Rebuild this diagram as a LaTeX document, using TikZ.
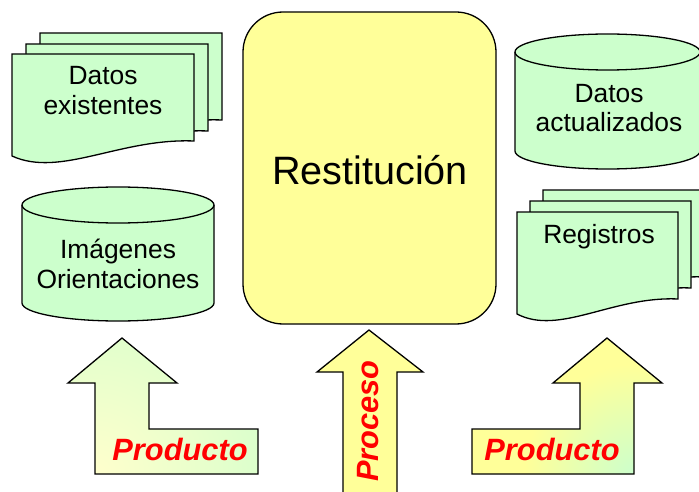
\documentclass[tikz,border=0pt]{standalone}
\usepackage{fontspec}
\setmainfont{Liberation Sans}
\definecolor{docgreen}{HTML}{CCFFCC}
\definecolor{boxyellow}{HTML}{FFFF99}
\definecolor{paleyellow}{HTML}{FFFFCC}
\definecolor{prodred}{HTML}{FF0000}
\tikzset{
  outline/.style={draw=black, line width=1.3pt, line join=miter},
  docpage/.style={outline, fill=docgreen},
  cylbody/.style={outline, fill=docgreen},
  lbl/.style={font=\fontsize{26.4}{30}\selectfont, anchor=base, inner sep=0pt},
  biglbl/.style={font=\fontsize{39.6}{44}\selectfont, anchor=base, inner sep=0pt},
  arrowlbl/.style={font=\fontsize{30.8}{34}\selectfont\bfseries\itshape, text=prodred, inner sep=0pt},
}
% document page: left x, top y (positive down), width
\newcommand\mydocpage[3]{%
  \draw[docpage] ({#1},{-(#2)}) -- ({#1+#3},{-(#2)}) -- ({#1+#3},{-(#2+87)})
    .. controls ({#1+0.593*#3},{-(#2+84)}) and ({#1+0.264*#3},{-(#2+124)}) .. ({#1},{-(#2+102)}) -- cycle;}
% cylinder: left x, right x, top-centre y, bottom-centre y, y radius
\newcommand\mycylinder[5]{%
  \draw[cylbody] ({#1},{-(#3)}) -- ({#1},{-(#4)})
    arc[start angle=180, end angle=360, x radius={(#2-#1)/2}, y radius=#5]
    -- ({#2},{-(#3)})
    arc[start angle=0, end angle=180, x radius={(#2-#1)/2}, y radius=#5] -- cycle;
  \draw[outline] ({#1},{-(#3)}) arc[start angle=180, end angle=360, x radius={(#2-#1)/2}, y radius=#5];}
\begin{document}
\begin{tikzpicture}[x=1pt,y=1pt]
\useasboundingbox (0,0) rectangle (699,-492);

% Datos existentes (stacked documents)
\mydocpage{40}{33}{182}
\mydocpage{26}{44}{182}
\mydocpage{12}{54}{182}
\node[lbl] (de1) at (103,-85) {Datos};
\node[lbl] (de2) at (103,-115) {existentes};

% Imagenes Orientaciones (cylinder)
\mycylinder{22}{214}{205}{303}{18}
\node[lbl] (io1) at (118,-258) {Imágenes};
\node[lbl] (io2) at (118,-288) {Orientaciones};

% Restitucion
\draw[outline, fill=boxyellow, rounded corners=40pt] (243,-12) rectangle (496,-324);
\node[biglbl] (rest) at (370,-185) {Restitución};

% Datos actualizados (cylinder)
\mycylinder{515}{700}{52}{151}{18}
\node[lbl] (da1) at (609,-103) {Datos};
\node[lbl] (da2) at (609,-132) {actualizados};

% Registros (stacked documents)
\mydocpage{543}{190}{161}
\mydocpage{530}{201}{161}
\mydocpage{517}{212}{161}
\node[lbl] (reg) at (599,-243) {Registros};

% Left Producto arrow (pale yellow at bottom-left, pale green elsewhere)
\begin{scope}
  \clip (122,-338) -- (177,-383) -- (149,-383) -- (149,-429) -- (258,-429)
    -- (258,-474) -- (95,-474) -- (95,-383) -- (68,-383) -- cycle;
  \shade[inner color=paleyellow, outer color=docgreen!80!paleyellow]
    (95,-474) circle (190);
\end{scope}
\draw[outline]
  (122,-338) -- (177,-383) -- (149,-383) -- (149,-429) -- (258,-429)
  -- (258,-474) -- (95,-474) -- (95,-383) -- (68,-383) -- cycle;
\node[arrowlbl, anchor=base] (prod1) at (180,-460) {Producto};

% Centre Proceso arrow
\draw[outline, fill=boxyellow]
  (369,-330) -- (423,-372) -- (397,-372) -- (397,-500) -- (343,-500)
  -- (343,-372) -- (317,-372) -- cycle;
\node[arrowlbl, rotate=90] (proc) at (368,-421) {Proceso};

% Right Producto arrow (yellow, turning green at bottom-right)
\begin{scope}
  \clip (607,-338) -- (662,-383) -- (634,-383) -- (634,-474) -- (472,-474)
    -- (472,-429) -- (580,-429) -- (580,-383) -- (553,-383) -- cycle;
  \fill[boxyellow] (460,-330) rectangle (670,-480);
  \shade[inner color=docgreen, outer color=boxyellow]
    (634,-474) circle (110);
\end{scope}
\draw[outline]
  (607,-338) -- (662,-383) -- (634,-383) -- (634,-474) -- (472,-474)
  -- (472,-429) -- (580,-429) -- (580,-383) -- (553,-383) -- cycle;
\node[arrowlbl, anchor=base] (prod2) at (552,-460) {Producto};
\end{tikzpicture}
\end{document}
